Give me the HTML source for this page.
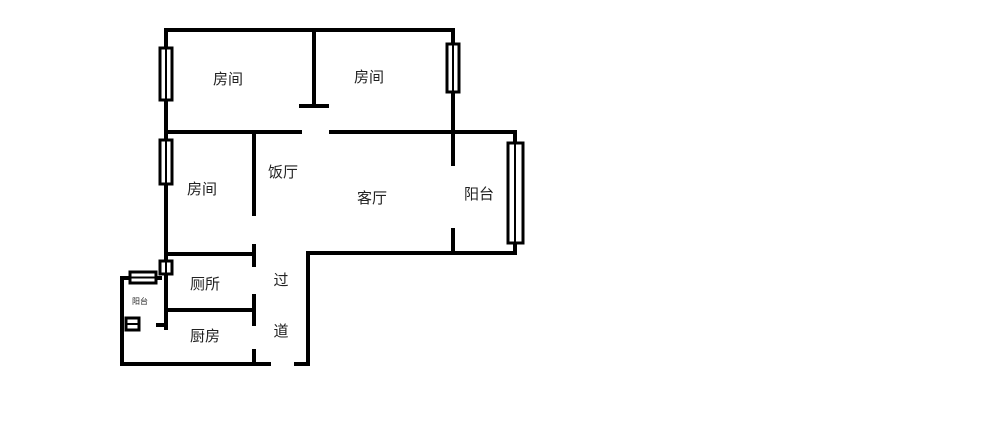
<!DOCTYPE html>
<html><head><meta charset="utf-8"><style>
html,body{margin:0;padding:0;background:#fff;}
svg{display:block;}
text{font-family:"Liberation Sans","Noto Sans CJK SC",sans-serif;font-size:15px;fill:#222;}
</style></head><body>
<svg width="1000" height="448" viewBox="0 0 1000 448" xmlns="http://www.w3.org/2000/svg">
<g stroke="#000" stroke-width="4" fill="none" stroke-linecap="square">
<line x1="166" y1="30" x2="453" y2="30"/>
<line x1="166" y1="30" x2="166" y2="328"/>
<line x1="314" y1="30" x2="314" y2="106"/>
<line x1="301" y1="106" x2="327" y2="106"/>
<line x1="166" y1="132" x2="300" y2="132"/>
<line x1="331" y1="132" x2="515" y2="132"/>
<line x1="453" y1="30" x2="453" y2="164"/>
<line x1="453" y1="230" x2="453" y2="253"/>
<line x1="515" y1="132" x2="515" y2="253"/>
<line x1="308" y1="253" x2="515" y2="253"/>
<line x1="254" y1="132" x2="254" y2="214"/>
<line x1="166" y1="254" x2="254" y2="254"/>
<line x1="254" y1="246" x2="254" y2="265"/>
<line x1="166" y1="310" x2="254" y2="310"/>
<line x1="254" y1="296" x2="254" y2="324"/>
<line x1="254" y1="351" x2="254" y2="364"/>
<line x1="308" y1="253" x2="308" y2="364"/>
<line x1="296" y1="364" x2="308" y2="364"/>
<line x1="122" y1="364" x2="269" y2="364"/>
<line x1="122" y1="278" x2="122" y2="364"/>
<line x1="122" y1="278" x2="160" y2="278"/>
<line x1="158" y1="325" x2="166" y2="325"/>
</g>
<g stroke="#000" stroke-width="3" fill="#fff">
<rect x="160" y="48" width="12" height="52"/>
<line x1="166" y1="48" x2="166" y2="100" stroke-width="2"/>
<rect x="160" y="140" width="12" height="44"/>
<line x1="166" y1="140" x2="166" y2="184" stroke-width="2"/>
<rect x="447" y="44" width="12" height="48"/>
<line x1="453" y1="44" x2="453" y2="92" stroke-width="2"/>
<rect x="508" y="143" width="15" height="100"/>
<line x1="515" y1="143" x2="515" y2="243" stroke-width="2"/>
<rect x="160" y="261" width="12" height="13"/>
<line x1="166" y1="261" x2="166" y2="274" stroke-width="2"/>
<rect x="130" y="272" width="26" height="11"/>
<line x1="130" y1="277.5" x2="156" y2="277.5" stroke-width="2"/>
<rect x="126" y="318" width="13" height="12"/>
<line x1="126" y1="324" x2="139" y2="324" stroke-width="2"/>
</g>
<text x="228" y="84" text-anchor="middle">房间</text>
<text x="369" y="82" text-anchor="middle">房间</text>
<text x="202" y="194" text-anchor="middle">房间</text>
<text x="283" y="177" text-anchor="middle">饭厅</text>
<text x="372" y="203" text-anchor="middle">客厅</text>
<text x="479" y="199" text-anchor="middle">阳台</text>
<text x="205" y="289" text-anchor="middle">厕所</text>
<text x="205" y="341" text-anchor="middle">厨房</text>
<text x="281" y="285" text-anchor="middle">过</text>
<text x="281" y="336" text-anchor="middle">道</text>
<text x="140" y="304" text-anchor="middle" style="font-size:8px">阳台</text>
</svg>
</body></html>
